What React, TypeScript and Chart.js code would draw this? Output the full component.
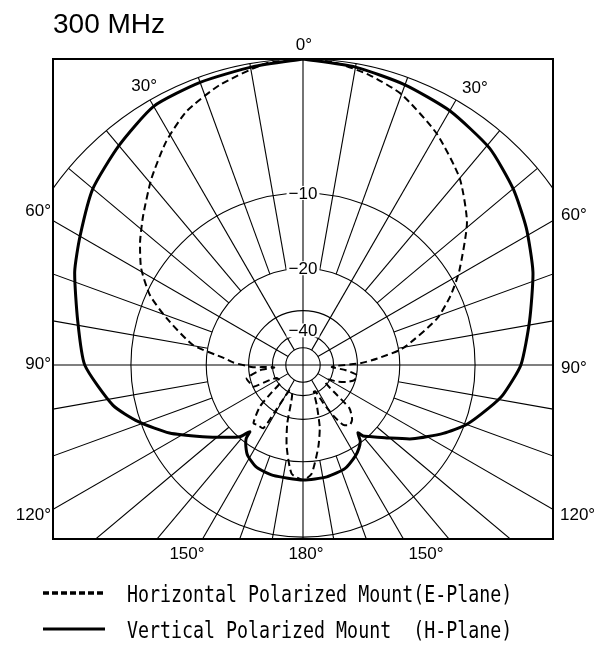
import React, { useEffect, useRef } from "react";
import { Chart, registerables } from "chart.js";

Chart.register(...registerables);

// ---------- data ----------
const titleText = "300 MHz";

// radial rings (dB) and the ones that carry a label
const ringDb = [-50, -40, -30, -20, -10, 0];
const ringLabelDb = [-10, -20, -40];
const ringLabelText = ["−10", "−20", "−40"];

// angular grid: a spoke every 10 degrees
const spokeAngles = [
  0, 10, 20, 30, 40, 50, 60, 70, 80, 90, 100, 110, 120, 130, 140, 150, 160, 170,
  180, 190, 200, 210, 220, 230, 240, 250, 260, 270, 280, 290, 300, 310, 320, 330, 340, 350,
];

// angle tick labels
const angleLabelText = ["0°", "30°", "30°", "60°", "60°", "90°", "90°", "120°", "120°", "150°", "180°", "150°"];

const seriesLabels = ["Horizontal Polarized Mount(E-Plane)", "Vertical Polarized Mount  (H-Plane)"];

// Horizontal polarized mount (E-plane) – dashed.  angle clockwise from top (deg), level (dB)
const eAngles = [
  0, 6, 13, 20, 30, 40, 49, 59, 65, 71, 80.5, 85, 88.3, 91.8, 94, 97, 100.5, 106, 111, 116, 120,
  128, 131, 133, 138, 142, 146, 149, 152, 155, 158, 161, 165, 169.4, 175.5, 180,
  186, 191.3, 195, 198, 202, 208, 211, 212.1, 217, 220.4, 226, 229, 232, 243, 245.6, 246.4, 251,
  256.7, 263, 265, 267, 267.5, 272, 275, 280.3, 288.9, 294.5, 300.9, 307.2, 313.2, 320.9, 328.5,
  335.3, 343.4, 353, 360,
];
const eDb = [
  0, -0.1, -0.5, -1.05, -2.35, -3.95, -5.95, -9.0, -11.0, -13.4, -19.2, -24.5, -29.1, -39.3, -41, -34, -29.9, -30.2, -32.5, -36.4, -41,
  -41, -35, -27.3, -24.8, -24.2, -25.1, -28.5, -34, -41, -41, -34.4, -27, -22.6, -17.9, -17.0,
  -17.9, -22.6, -28, -36.5, -41, -41, -30, -24.5, -24.4, -24.1, -28.3, -35, -41, -41, -37.1, -30.1, -29.5,
  -28.9, -34, -41, -37, -31.5, -25.7, -23.5, -17.5, -13.1, -10.4, -8.4, -7.0, -5.8, -4.2, -2.7,
  -1.6, -0.81, -0.12, 0,
];

// Vertical polarized mount (H-plane) – solid
const hAngles = [
  0, 10, 20, 30, 40.7, 50, 58.5, 68, 79, 90, 98.5, 103, 110, 116, 124, 131, 137, 139.8, 141, 143, 146,
  150, 158, 168, 180,
  195.2, 204.3, 211.4, 215, 217.7, 218.6, 221.4, 226.7, 234.4, 243, 251, 258, 270, 281, 292.2, 300,
  310, 320, 330, 340, 350.5, 360,
];
const hDb = [
  0, -0.2, -0.45, -0.72, -1.17, -1.9, -2.7, -3.65, -4.9, -5.9, -7.2, -8.2, -9.8, -11.7, -14.6, -17.6, -19.8, -20.7, -21.8, -20.3, -19.4,
  -18.6, -17.5, -17.1, -17.0,
  -17.1, -17.4, -18.4, -19.5, -20.7, -22.2, -20.2, -18.5, -15.8, -12.4, -9.8, -7.9, -5.87, -5.0, -3.75, -3.0,
  -1.9, -1.15, -0.42, -0.3, -0.2, 0,
];

// ---------- helpers ----------
// log-type radial scale of the chart paper: radius grows by 10^(dB/40)
const radiusOf = (db: number) => Math.pow(10, db / 40);
const toXY = (angles: number[], dbs: number[]) =>
  angles.map((a, i) => {
    const r = radiusOf(dbs[i]);
    const t = (a * Math.PI) / 180;
    return { x: r * Math.sin(t), y: r * Math.cos(t) };
  });

// label placement (pixels)
const angleLabelPos: { x: number; y: number; align: CanvasTextAlign }[] = [
  { x: 304, y: 45, align: "center" },
  { x: 157, y: 86, align: "right" },
  { x: 462, y: 88, align: "left" },
  { x: 51, y: 211, align: "right" },
  { x: 561, y: 215, align: "left" },
  { x: 51, y: 364, align: "right" },
  { x: 561, y: 368, align: "left" },
  { x: 51, y: 515, align: "right" },
  { x: 560, y: 515, align: "left" },
  { x: 187, y: 554, align: "center" },
  { x: 306, y: 554, align: "center" },
  { x: 426, y: 554, align: "center" },
];

const polarPlugin = {
  id: "polarPaper",
  beforeDatasetsDraw(chart: any) {
    const { ctx, chartArea: ca, scales } = chart;
    const sx = scales.x;
    const sy = scales.y;
    const cx = sx.getPixelForValue(0);
    const cy = sy.getPixelForValue(0);
    const unit = sx.getPixelForValue(1) - cx;
    ctx.save();
    ctx.beginPath();
    ctx.rect(ca.left, ca.top, ca.right - ca.left, ca.bottom - ca.top);
    ctx.clip();
    ctx.strokeStyle = "#000";
    ctx.lineWidth = 1.1;
    for (const db of ringDb) {
      ctx.beginPath();
      ctx.arc(cx, cy, radiusOf(db) * unit, 0, Math.PI * 2);
      ctx.stroke();
    }
    for (const a of spokeAngles) {
      const inner = a % 90 === 0 ? 0 : a % 30 === 0 ? radiusOf(-50) : radiusOf(-20);
      const t = (a * Math.PI) / 180;
      ctx.beginPath();
      ctx.moveTo(cx + inner * unit * Math.sin(t), cy - inner * unit * Math.cos(t));
      ctx.lineTo(cx + unit * Math.sin(t), cy - unit * Math.cos(t));
      ctx.stroke();
    }
    // ring labels on the 0° spoke
    ctx.font = "17px 'Liberation Sans', Arial, sans-serif";
    ctx.textAlign = "center";
    ctx.textBaseline = "middle";
    ringLabelDb.forEach((db, i) => {
      const py = cy - radiusOf(db) * unit + (db === -40 ? -4 : 0);
      const w = ctx.measureText(ringLabelText[i]).width + 4;
      ctx.fillStyle = "#fff";
      ctx.fillRect(cx - w / 2, py - 7, w, 14);
      ctx.fillStyle = "#000";
      ctx.fillText(ringLabelText[i], cx, py + 1);
    });
    ctx.restore();
  },
  afterDatasetsDraw(chart: any) {
    const { ctx, chartArea: ca } = chart;
    ctx.save();
    // frame
    ctx.strokeStyle = "#000";
    ctx.lineWidth = 2;
    ctx.strokeRect(ca.left, ca.top, ca.right - ca.left, ca.bottom - ca.top);
    // angle labels
    ctx.fillStyle = "#000";
    ctx.font = "17px 'Liberation Sans', Arial, sans-serif";
    ctx.textBaseline = "middle";
    angleLabelText.forEach((t, i) => {
      const p = angleLabelPos[i];
      ctx.textAlign = p.align;
      ctx.fillText(t, p.x, p.y);
    });
    // title
    ctx.font = "28px 'Liberation Sans', Arial, sans-serif";
    ctx.textAlign = "left";
    ctx.textBaseline = "alphabetic";
    ctx.fillText(titleText, 53, 33);
    // legend
    const rows = [
      { y: 593, base: 602, dash: [6, 3], width: 3.5 },
      { y: 629, base: 638, dash: [], width: 3 },
    ];
    rows.forEach((r, i) => {
      ctx.beginPath();
      ctx.setLineDash(r.dash);
      ctx.lineWidth = r.width;
      ctx.moveTo(43, r.y);
      ctx.lineTo(105, r.y);
      ctx.stroke();
      ctx.setLineDash([]);
      ctx.save();
      ctx.translate(127, r.base);
      ctx.scale(1, 1.25);
      ctx.font = "18.3px 'DejaVu Sans Mono', monospace";
      ctx.textAlign = "left";
      ctx.fillText(seriesLabels[i], 0, 0);
      ctx.restore();
    });
    ctx.restore();
  },
};

export default function App() {
  const ref = useRef<HTMLCanvasElement | null>(null);
  useEffect(() => {
    if (!ref.current) return;
    const chart = new Chart(ref.current, {
      type: "scatter",
      data: {
        datasets: [
          {
            label: seriesLabels[0],
            data: toXY(eAngles, eDb),
            showLine: true,
            borderColor: "#000",
            borderWidth: 2,
            borderDash: [7, 4],
            pointRadius: 0,
            tension: 0.2,
            fill: false,
          },
          {
            label: seriesLabels[1],
            data: toXY(hAngles, hDb),
            showLine: true,
            borderColor: "#000",
            borderWidth: 3,
            pointRadius: 0,
            tension: 0.2,
            fill: false,
          },
        ],
      },
      options: {
        responsive: false,
        devicePixelRatio: 1,
        animation: false,
        maintainAspectRatio: false,
        layout: { padding: { left: 53, right: 47, top: 59, bottom: 111 } },
        plugins: { legend: { display: false }, tooltip: { enabled: false }, title: { display: false } },
        scales: {
          x: { type: "linear", min: -0.817, max: 0.817, display: false },
          y: { type: "linear", min: -0.5686, max: 1.0, display: false },
        },
      },
      plugins: [polarPlugin],
    });
    return () => chart.destroy();
  }, []);
  return (
    <div style={{ position: "absolute", left: 0, top: 0, width: 600, height: 650, background: "#fff" }}>
      <canvas ref={ref} width={600} height={650} style={{ display: "block" }} />
    </div>
  );
}
